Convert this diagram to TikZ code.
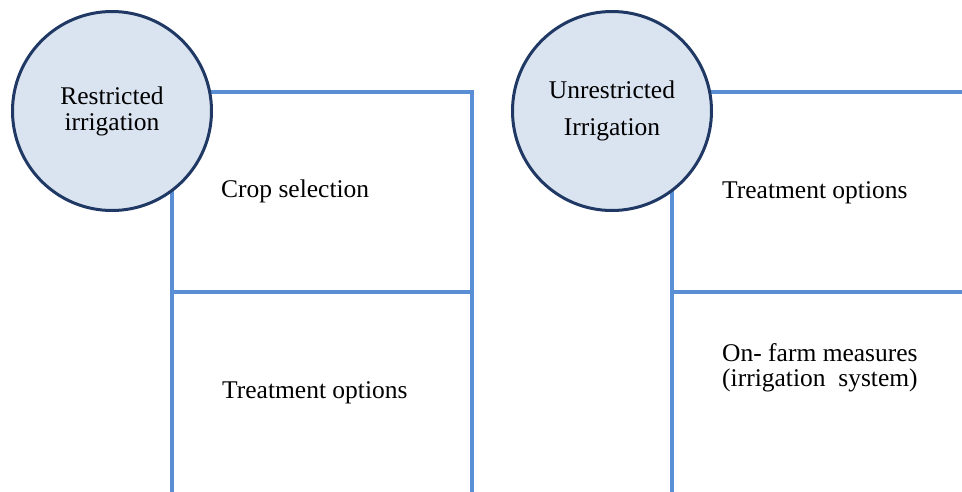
\documentclass[tikz,border=0pt]{standalone}
\usepackage{fontspec}
\setmainfont{Liberation Serif}
\definecolor{ringfill}{HTML}{DAE3F0}
\definecolor{ringline}{HTML}{1F3864}
\definecolor{boxline}{HTML}{5B8FD5}
\begin{document}
\begin{tikzpicture}[x=1pt,y=-1pt,
  hub/.style={circle,draw=ringline,fill=ringfill,line width=3pt,
    minimum size=199pt,inner sep=0pt,align=center,
    font=\fontsize{25.5}{26}\selectfont},
  frame/.style={draw=boxline,line width=4pt},
  label/.style={anchor=base west,inner sep=0pt,align=left,
    font=\fontsize{25.5}{25}\selectfont}]
\useasboundingbox (0,0) rectangle (962,491);

% left panel
\coordinate (l-tl) at (172,92);
\coordinate (l-br) at (472,495);
\coordinate (l-ml) at (172,292);
\coordinate (l-mr) at (472,292);
\draw[frame] (l-tl) rectangle (l-br);
\draw[frame] (l-ml) -- (l-mr);
\node[hub] (restricted) at (112,111) {Restricted\\irrigation};
\node[label] (crop) at (221,197) {Crop selection};
\node[label] (treatL) at (222,398) {Treatment options};

% right panel
\coordinate (r-tl) at (672,92);
\coordinate (r-br) at (968,495);
\coordinate (r-ml) at (672,292);
\coordinate (r-mr) at (968,292);
\draw[frame] (r-tl) rectangle (r-br);
\draw[frame] (r-ml) -- (r-mr);
\node[hub] (unrestricted) at (612,111) {Unrestricted\\[11pt]Irrigation};
\node[label] (treatR) at (722,198) {Treatment options};
\node[label] (onfarm) at (722,386) {On- farm measures\\(irrigation\ \ system)};
\end{tikzpicture}
\end{document}
